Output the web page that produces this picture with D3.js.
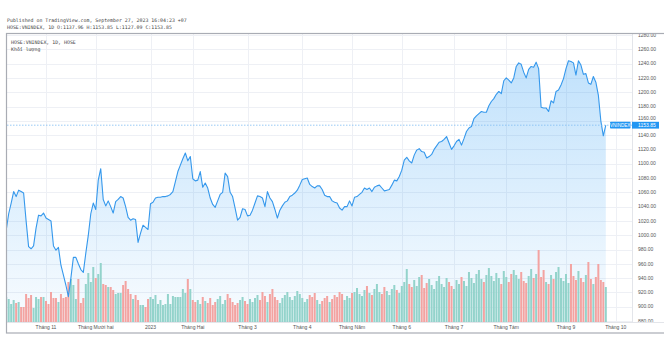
<!DOCTYPE html>
<html>
<head>
<meta charset="utf-8">
<script src="https://cdn.jsdelivr.net/npm/d3@7/dist/d3.min.js"></script>
<style>
  html, body { margin: 0; padding: 0; background: #fff; }
  svg { display: block; }
</style>
</head>
<body>
<svg id="chart" width="664" height="339"></svg>
<script>
// VNINDEX daily close, 10/10/2022 – 27/09/2023 (one value per trading session)
const closes = [
  1007,1030,1045,1061,1054,1063,1061,1059,1020,984,
  981,985,1010,1028,1027,1031,1024,1022,1020,985,
  979,983,958,944,930,914,940,969,969,960,
  952,948,975,1000,1030,1045,1036,1077,1093,1050,
  1041,1048,1040,1031,1047,1050,1054,1052,1040,1025,
  1021,1023,1022,990,1003,1014,1011,1008,1044,1046,
  1052,1053,1053,1054,1054,1055,1057,1061,1075,1089,
  1098,1107,1115,1104,1110,1079,1076,1077,1089,1067,
  1073,1066,1052,1043,1039,1048,1057,1060,1087,1082,
  1060,1054,1038,1021,1025,1037,1036,1027,1028,1035,
  1045,1055,1054,1052,1040,1061,1052,1047,1036,1024,
  1035,1041,1046,1048,1054,1056,1059,1063,1070,1078,
  1079,1080,1071,1068,1066,1069,1069,1064,1056,1054,
  1054,1048,1046,1045,1038,1035,1040,1040,1048,1041,
  1053,1054,1057,1060,1066,1064,1066,1061,1067,1069,
  1070,1066,1062,1063,1064,1070,1077,1076,1082,1091,
  1105,1109,1104,1101,1112,1119,1121,1117,1116,1108,
  1110,1113,1120,1125,1130,1131,1134,1138,1129,1120,
  1125,1131,1134,1126,1135,1145,1150,1152,1163,1167,
  1170,1173,1172,1172,1181,1187,1191,1197,1201,1198,
  1216,1220,1217,1213,1220,1236,1241,1239,1228,1220,
  1232,1236,1235,1242,1233,1179,1178,1178,1173,1188,
  1185,1201,1203,1210,1219,1233,1244,1243,1241,1224,
  1244,1238,1225,1226,1213,1211,1222,1214,1196,1160,
  1139,1153.85
];

// Matched volume per session (million shares)
const volumes = [
  625,575,450,550,475,500,375,375,700,600,
  675,350,625,575,625,625,525,450,750,600,
  600,500,700,600,625,1000,1075,925,575,1075,
  475,600,950,1225,1000,1375,1100,1200,1475,950,
  925,875,875,800,700,725,725,925,1025,825,
  700,575,675,550,425,425,375,575,625,575,
  675,450,550,425,450,700,450,650,625,625,
  625,825,725,1075,825,550,
  500,550,450,625,525,475,600,425,500,575,650,450,550,700,600,500,425,475,550,625,525,450,575,500,
  600,675,550,750,650,500,700,825,625,550,
  475,600,675,750,625,550,650,775,700,600,
  500,575,675,625,725,550,450,525,600,650,
  500,575,675,625,750,700,550,650,600,725,
  750,850,700,650,800,900,725,675,825,950,
  750,700,875,775,675,825,925,800,725,900,
  1000,1325,950,875,1050,900,1125,1175,850,975,
  1075,925,825,1025,1150,950,875,1100,1000,900,
  825,1050,
  950,1125,1025,900,1250,1100,975,1200,1300,1075,
  1000,1175,1350,1150,1025,1225,1100,950,1275,1125,
  1000,1200,1300,1175,1075,1250,1025,975,1150,1325,
  1100,1200,1800,
  1125,1300,1000,950,1175,1075,1250,1375,1100,1025,
  1200,975,1450,1150,1050,1275,1100,1000,1175,1500,
  1075,950,1125,1450,1050,1000,875
];

// Session index where each month label sits on the time axis
const monthTickIndex = [16, 36, 58, 75, 97, 119, 139, 159, 180, 201, 225, 245];
const monthLabels = ["Tháng 11", "Tháng Mười hai", "2023", "Tháng Hai", "Tháng 3", "Tháng 4",
                     "Tháng Năm", "Tháng 6", "Tháng 7", "Tháng Tám", "Tháng 9", "Tháng 10"];

// Price axis ticks
const priceTicks = [880, 900, 920, 940, 960, 980, 1000, 1020, 1040, 1060, 1080, 1100,
                    1120, 1140, 1160, 1180, 1200, 1220, 1240, 1260, 1280];

const headerLines = [
  "Published on TradingView.com, September 27, 2023 16:04:23 +07",
  "HOSE:VNINDEX, 1D O:1137.96 H:1153.85 L:1127.09 C:1153.85"
];
const legendLines = ["HOSE:VNINDEX, 1D, HOSE", "Khối lượng"];
const symbolName = "VNINDEX";
const lastClose = closes[closes.length - 1];

const W = 664, H = 339;
const plot = { left: 7, right: 632, top: 34, bottom: 322 };
const axisFont = "'Liberation Sans', Arial, sans-serif";
const monoFont = "'DejaVu Sans Mono', 'Liberation Mono', monospace";

const svg = d3.select("#chart");

const x = d3.scaleLinear().domain([0, closes.length - 1]).range([6.2, 605.8]);
const y = d3.scaleLinear().domain([880, 1280]).range([321, 35]);
const vol = d3.scaleLinear().domain([0, d3.max(volumes)]).range([plot.bottom, plot.bottom - 72]);

// Gradient for the area under the price line
const defs = svg.append("defs");
const grad = defs.append("linearGradient")
  .attr("id", "areaFill").attr("gradientUnits", "userSpaceOnUse")
  .attr("x1", 0).attr("x2", 0).attr("y1", y(d3.max(closes))).attr("y2", plot.bottom);
grad.append("stop").attr("offset", 0).attr("stop-color", "#2196f3").attr("stop-opacity", 0.28);
grad.append("stop").attr("offset", 1).attr("stop-color", "#2196f3").attr("stop-opacity", 0.03);

defs.append("clipPath").attr("id", "plotClip")
  .append("rect").attr("x", plot.left).attr("y", plot.top)
  .attr("width", plot.right - plot.left).attr("height", plot.bottom - plot.top);

// Header text above the chart frame
svg.append("g").selectAll("text").data(headerLines).join("text")
  .attr("x", 7).attr("y", (d, i) => 22 + i * 7)
  .attr("font-family", monoFont).attr("font-size", 4.9)
  .attr("fill", "#444").text(d => d);

// Grid
const grid = svg.append("g");
grid.selectAll("line.h").data(priceTicks).join("line")
  .attr("x1", plot.left).attr("x2", plot.right)
  .attr("y1", d => Math.round(y(d)) + 0.5).attr("y2", d => Math.round(y(d)) + 0.5)
  .attr("stroke", "#eef0f5").attr("stroke-width", 1);
grid.selectAll("line.v").data(monthTickIndex).join("line")
  .attr("x1", d => Math.round(x(d)) + 0.5).attr("x2", d => Math.round(x(d)) + 0.5)
  .attr("y1", plot.top).attr("y2", plot.bottom)
  .attr("stroke", "#eef0f5").attr("stroke-width", 1);

const plotG = svg.append("g").attr("clip-path", "url(#plotClip)");

// Area + line
const idx = d3.range(closes.length);
plotG.append("path").datum(idx)
  .attr("d", d3.area().x(i => x(i)).y0(plot.bottom).y1(i => y(closes[i])))
  .attr("fill", "url(#areaFill)");

// Volume bars, coloured by session direction
const bw = 2;
plotG.append("g").selectAll("rect").data(idx).join("rect")
  .attr("x", i => x(i) - bw / 2)
  .attr("width", bw)
  .attr("y", i => vol(volumes[i]))
  .attr("height", i => plot.bottom - vol(volumes[i]))
  .attr("fill", i => (i > 0 && closes[i] < closes[i - 1]) ? "#f3a3a1" : "#93d3cb");

plotG.append("path").datum(idx)
  .attr("d", d3.line().x(i => x(i)).y(i => y(closes[i])))
  .attr("fill", "none").attr("stroke", "#3598ec").attr("stroke-width", 1.1)
  .attr("stroke-linejoin", "round");

// Last price line
svg.append("line")
  .attr("x1", plot.left).attr("x2", plot.right)
  .attr("y1", y(lastClose)).attr("y2", y(lastClose))
  .attr("stroke", "#7fbdf3").attr("stroke-width", 0.8).attr("stroke-dasharray", "1.5,1.5");

// Legend inside the pane
svg.append("g").selectAll("text").data(legendLines).join("text")
  .attr("x", 11).attr("y", (d, i) => 44 + i * 7)
  .attr("font-family", monoFont).attr("font-size", 4.9)
  .attr("fill", "#444").text(d => d);

// Price axis; a label that would sit under the last-price tag is nudged clear of it
const tagY = y(lastClose);
const labelY = d => {
  const yy = y(d);
  if (Math.abs(yy - tagY) < 7) return yy < tagY ? tagY - 7 : tagY + 7;
  return yy;
};
const axisG = svg.append("g");
axisG.append("line")
  .attr("x1", plot.right + 0.5).attr("x2", plot.right + 0.5)
  .attr("y1", plot.top).attr("y2", 333)
  .attr("stroke", "#e3e5ea");
axisG.selectAll("text").data(priceTicks).join("text")
  .attr("x", 638).attr("y", labelY)
  .attr("dy", "0.35em")
  .attr("font-family", axisFont).attr("font-size", 5)
  .attr("fill", "#555").text(d => d3.format(".2f")(d));

// Time axis
svg.append("line")
  .attr("x1", plot.left).attr("x2", W).attr("y1", plot.bottom + 0.5).attr("y2", plot.bottom + 0.5)
  .attr("stroke", "#e3e5ea");
svg.append("rect").attr("x", plot.left).attr("y", plot.bottom + 1)
  .attr("width", W - plot.left).attr("height", 10).attr("fill", "#fff");
svg.append("g").selectAll("text").data(monthTickIndex).join("text")
  .attr("x", d => x(d)).attr("y", 329)
  .attr("text-anchor", "middle")
  .attr("font-family", axisFont).attr("font-size", 5)
  .attr("fill", "#555").text((d, i) => monthLabels[i]);

// Symbol and last price tags
const tags = svg.append("g");
tags.append("rect").attr("x", 610).attr("y", tagY - 3.4).attr("width", 20.5).attr("height", 6.8)
  .attr("fill", "#2196f3").attr("rx", 0.8);
tags.append("text").attr("x", 620.2).attr("y", tagY).attr("dy", "0.35em")
  .attr("text-anchor", "middle").attr("font-family", axisFont).attr("font-size", 4.6)
  .attr("fill", "#fff").text(symbolName);
tags.append("rect").attr("x", 632).attr("y", tagY - 3.4).attr("width", 27).attr("height", 6.8)
  .attr("fill", "#2196f3");
tags.append("text").attr("x", 638).attr("y", tagY).attr("dy", "0.35em")
  .attr("font-family", axisFont).attr("font-size", 5)
  .attr("fill", "#fff").text(d3.format(".2f")(lastClose));

// Outer frame
svg.append("rect")
  .attr("x", 6.5).attr("y", 33.5).attr("width", W).attr("height", 299.5)
  .attr("fill", "none").attr("stroke", "#a9acb4").attr("stroke-width", 1.2);
</script>
</body>
</html>
